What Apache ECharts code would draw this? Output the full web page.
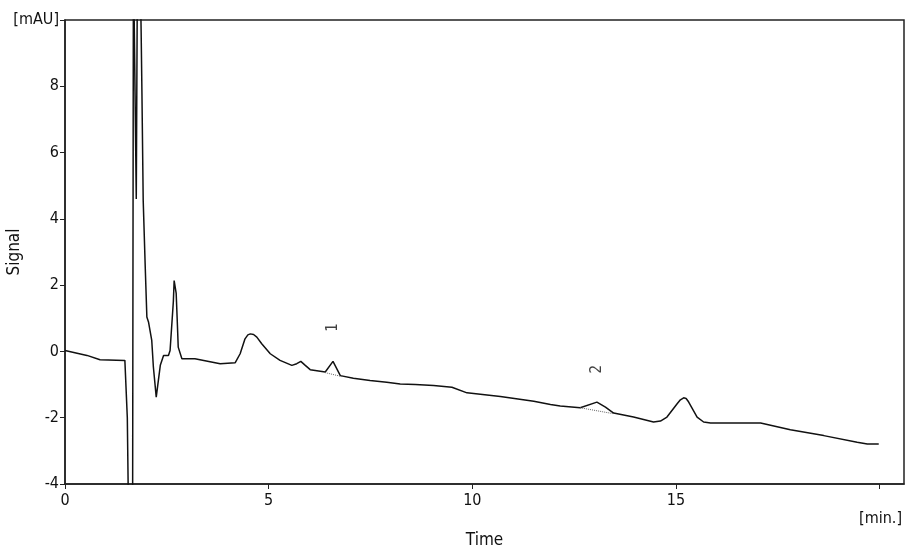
<!DOCTYPE html>
<html>
<head>
<meta charset="utf-8">
<script src="https://cdn.jsdelivr.net/npm/echarts@6/dist/echarts.min.js"></script>
<style>
html,body{margin:0;padding:0;background:#fff;}
#chart{width:922px;height:550px;}
</style>
</head>
<body>
<div id="chart"></div>
<script>
// Chromatogram trace: time [min] and signal [mAU]
const times = [0, 0.54, 0.86, 1.47, 1.50, 1.53, 1.56, 1.66, 1.68, 1.72, 1.75, 1.78, 1.84, 1.87, 1.89, 1.92, 1.97, 2.01, 2.05, 2.13, 2.17, 2.24, 2.34, 2.42, 2.54, 2.58, 2.66, 2.68, 2.73, 2.76, 2.78, 2.87, 3.19, 3.81, 4.18, 4.30, 4.42, 4.49, 4.55, 4.63, 4.71, 4.83, 5.04, 5.28, 5.57, 5.69, 5.79, 5.90, 6.02, 6.39, 6.58, 6.76, 7.08, 7.49, 7.90, 8.23, 8.60, 9.05, 9.50, 9.87, 10.69, 11.51, 11.92, 12.16, 12.65, 13.06, 13.27, 13.47, 13.96, 14.45, 14.62, 14.78, 15.03, 15.11, 15.19, 15.25, 15.31, 15.52, 15.68, 15.85, 17.08, 17.81, 18.63, 19.45, 19.70, 19.98];
const signal = [0.03, -0.12, -0.25, -0.27, -0.30, -2.0, -5, -5, 12, 12, 4.6, 12, 12, 9.6, 7.7, 4.56, 2.55, 1.04, 0.89, 0.33, -0.47, -1.38, -0.42, -0.12, -0.12, 0.03, 1.5, 2.14, 1.75, 0.8, 0.13, -0.22, -0.22, -0.37, -0.34, -0.07, 0.38, 0.50, 0.53, 0.51, 0.43, 0.23, -0.07, -0.27, -0.42, -0.37, -0.30, -0.42, -0.55, -0.62, -0.30, -0.73, -0.81, -0.88, -0.93, -0.98, -1.00, -1.03, -1.08, -1.25, -1.36, -1.50, -1.60, -1.65, -1.70, -1.53, -1.68, -1.86, -1.98, -2.13, -2.10, -1.98, -1.58, -1.46, -1.40, -1.42, -1.52, -1.98, -2.13, -2.16, -2.16, -2.36, -2.54, -2.74, -2.79, -2.79];

// Integration baselines (dotted) for labelled peaks
const base1Times = [6.39, 6.80];
const base1Values = [-0.64, -0.76];
const base2Times = [12.65, 13.47];
const base2Values = [-1.70, -1.88];

// Peak labels
const peakNames = ['1', '2'];
const peakLabelTimes = [6.58, 13.06];
const peakLabelValues = [0.72, -0.54];

// Axis ticks
const xTickLabels = ['0', '5', '10', '15'];
const yTopLabel = '[mAU]';

const zip = (a, b) => a.map((v, i) => [v, b[i]]);

const FONT = 'DejaVu Sans Condensed';
const chart = echarts.init(document.getElementById('chart'));
chart.setOption({
  animation: false,
  backgroundColor: '#fff',
  grid: {left: 65, top: 20, right: 18, bottom: 66, containLabel: false, outerBoundsMode: 'none',
    show: true, borderColor: '#222', borderWidth: 1.5},
  xAxis: {
    type: 'value', min: 0, max: 20.6, interval: 5,
    name: 'Time', nameLocation: 'middle', nameGap: 48, nameMoveOverlap: false,
    nameTextStyle: {fontFamily: FONT, fontSize: 17, color: '#111'},
    axisLine: {show: true, onZero: false, lineStyle: {color: '#222', width: 1.5}},
    axisTick: {show: true, length: 5, lineStyle: {color: '#222'}},
    axisLabel: {
      fontFamily: FONT, fontSize: 16, color: '#111', margin: 9,
      showMaxLabel: false,
      formatter: v => { const i = xTickLabels.indexOf(String(v)); return i >= 0 ? xTickLabels[i] : ''; }
    },
    splitLine: {show: false}
  },
  yAxis: {
    type: 'value', min: -4, max: 10, interval: 2,
    name: 'Signal', nameLocation: 'middle', nameRotate: 90, nameGap: 42, nameMoveOverlap: false,
    nameTextStyle: {fontFamily: FONT, fontSize: 17, color: '#111'},
    axisLine: {show: true, onZero: false, lineStyle: {color: '#222', width: 1.5}},
    axisTick: {show: true, length: 5, lineStyle: {color: '#222'}},
    axisLabel: {
      fontFamily: FONT, fontSize: 16, color: '#111', margin: 6,
      formatter: v => v === 10 ? yTopLabel : String(v)
    },
    splitLine: {show: false}
  },
  graphic: [{
    type: 'text', right: 20, top: 511,
    style: {text: '[min.]', fontFamily: FONT, fontSize: 16, fill: '#111'}
  }],
  series: [
    {
      type: 'line', data: zip(times, signal), showSymbol: false, clip: true,
      lineStyle: {color: '#111', width: 1.5}
    },
    {
      type: 'line', data: zip(base1Times, base1Values), showSymbol: false,
      lineStyle: {color: '#666', width: 1, type: 'dotted'}
    },
    {
      type: 'line', data: zip(base2Times, base2Values), showSymbol: false,
      lineStyle: {color: '#666', width: 1, type: 'dotted'}
    },
    {
      type: 'scatter', symbolSize: 0,
      data: peakNames.map((n, i) => ({value: [peakLabelTimes[i], peakLabelValues[i]], name: n})),
      label: {show: true, position: 'inside', rotate: 90, formatter: p => p.name,
        fontFamily: FONT, fontSize: 15, color: '#111'}
    }
  ]
});
</script>
</body>
</html>
